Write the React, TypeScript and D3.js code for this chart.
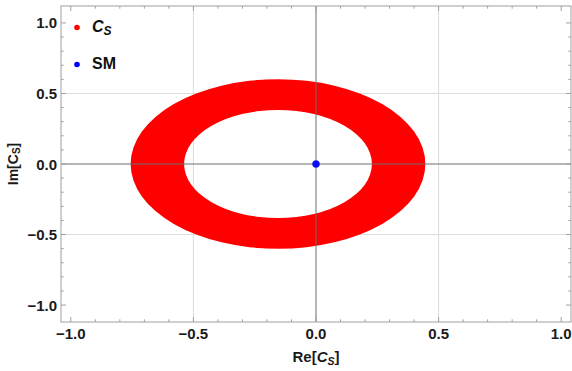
import React from "react";
import * as d3 from "d3";

// ---- data ----
const xTicks = [-1.0, -0.5, 0.0, 0.5, 1.0];
const yTicks = [-1.0, -0.5, 0.0, 0.5, 1.0];
const gridValues = [-0.5, 0.5];
// allowed C_S region: annulus centred on (centerRe, centerIm)
const regionCenter = [-0.155, 0.0];
const regionRadii = [0.383, 0.601]; // inner, outer
const smPoint = [0.0, 0.0];
const legendItems = [
  { key: "CS", color: "#ff0000" },
  { key: "SM", color: "#0000ff" },
];

const W = 572;
const H = 371;
const fmt = (v: number) => (v < 0 ? "\u2212" : "") + Math.abs(v).toFixed(1);

export default function App() {
  const x = d3.scaleLinear().domain([-1.04, 1.04]).range([61, 571]);
  const y = d3.scaleLinear().domain([-1.12, 1.12]).range([322, 6]);
  const [x0, x1] = x.range();
  const [y0, y1] = y.range();

  const minorX = d3.range(-10, 11).map((i) => i / 10).filter((v) => Math.abs(v * 10) % 5 !== 0);
  const minorY = minorX;

  const arc = d3
    .arc()
    .innerRadius(regionRadii[0])
    .outerRadius(regionRadii[1])
    .startAngle(0)
    .endAngle(2 * Math.PI);
  const kx = x(1) - x(0);
  const ky = y(0) - y(1);

  const frameColor = "#a0a0a0";
  const font = "'Liberation Sans', Arial, sans-serif";

  return (
    <svg
      width={W}
      height={H}
      style={{ position: "absolute", left: 0, top: 0, background: "#fff" }}
      fontFamily={font}
    >
      {/* grid */}
      {gridValues.map((v) => (
        <line key={"gx" + v} x1={x(v)} x2={x(v)} y1={y1} y2={y0} stroke="#dcdcdc" strokeWidth={1} />
      ))}
      {gridValues.map((v) => (
        <line key={"gy" + v} x1={x0} x2={x1} y1={y(v)} y2={y(v)} stroke="#dcdcdc" strokeWidth={1} />
      ))}

      {/* C_S region */}
      <path
        d={arc({} as any) as string}
        transform={`translate(${x(regionCenter[0])},${y(regionCenter[1])}) scale(${kx},${ky})`}
        fill="#ff0000"
      />

      {/* axes at zero */}
      <line x1={x(0)} x2={x(0)} y1={y1} y2={y0} stroke="#6e6e6e" strokeWidth={1} />
      <line x1={x0} x2={x1} y1={y(0)} y2={y(0)} stroke="#6e6e6e" strokeWidth={1} />

      {/* SM point */}
      <circle cx={x(smPoint[0])} cy={y(smPoint[1])} r={3.5} fill="#0a0aff" stroke="#2020c0" strokeWidth={0.6} />

      {/* frame */}
      <rect x={x0} y={y1} width={x1 - x0} height={y0 - y1} fill="none" stroke={frameColor} strokeWidth={1} />

      {/* ticks */}
      {xTicks.map((v) => (
        <g key={"xt" + v}>
          <line x1={x(v)} x2={x(v)} y1={y0} y2={y0 - 5} stroke={frameColor} />
          <line x1={x(v)} x2={x(v)} y1={y1} y2={y1 + 5} stroke={frameColor} />
          <text x={x(v)} y={338.5} textAnchor="middle" fontSize={15} fontWeight="bold" fill="#1a1a1a">
            {fmt(v)}
          </text>
        </g>
      ))}
      {minorX.map((v) => (
        <g key={"xm" + v}>
          <line x1={x(v)} x2={x(v)} y1={y0} y2={y0 - 2.7} stroke={frameColor} />
          <line x1={x(v)} x2={x(v)} y1={y1} y2={y1 + 2.7} stroke={frameColor} />
        </g>
      ))}
      {yTicks.map((v) => (
        <g key={"yt" + v}>
          <line x1={x0} x2={x0 + 5} y1={y(v)} y2={y(v)} stroke={frameColor} />
          <line x1={x1} x2={x1 - 5} y1={y(v)} y2={y(v)} stroke={frameColor} />
          <text x={57} y={y(v) + 5.5} textAnchor="end" fontSize={15} fontWeight="bold" fill="#1a1a1a">
            {fmt(v)}
          </text>
        </g>
      ))}
      {minorY.map((v) => (
        <g key={"ym" + v}>
          <line x1={x0} x2={x0 + 2.7} y1={y(v)} y2={y(v)} stroke={frameColor} />
          <line x1={x1} x2={x1 - 2.7} y1={y(v)} y2={y(v)} stroke={frameColor} />
        </g>
      ))}

      {/* axis labels */}
      <text x={x(0)} y={362} textAnchor="middle" fontSize={15} fontWeight="bold" fill="#1a1a1a">
        Re[<tspan fontStyle="italic">C</tspan>
        <tspan fontStyle="italic" fontSize={10.5} dy={3}>S</tspan>
        <tspan dy={-3}>]</tspan>
      </text>
      <text
        transform={`translate(18,${y(0)}) rotate(-90)`}
        textAnchor="middle"
        fontSize={14}
        fontWeight="bold"
        fill="#1a1a1a"
      >
        Im[C<tspan fontSize={10} dy={2}>S</tspan>
        <tspan dy={-2}>]</tspan>
      </text>

      {/* legend */}
      {legendItems.map((d, i) => {
        const cy = 27.5 + i * 37;
        return (
          <g key={d.key}>
            <circle cx={77} cy={cy} r={2.8} fill={d.color} />
            {d.key === "CS" ? (
              <text x={92} y={cy + 4} fontSize={16} fontWeight="bold" fill="#111">
                <tspan fontStyle="italic">C</tspan>
                <tspan fontStyle="italic" fontSize={12} dy={3}>S</tspan>
              </text>
            ) : (
              <text x={92} y={cy + 4.5} fontSize={16} fontWeight="bold" fill="#111">
                SM
              </text>
            )}
          </g>
        );
      })}
    </svg>
  );
}
